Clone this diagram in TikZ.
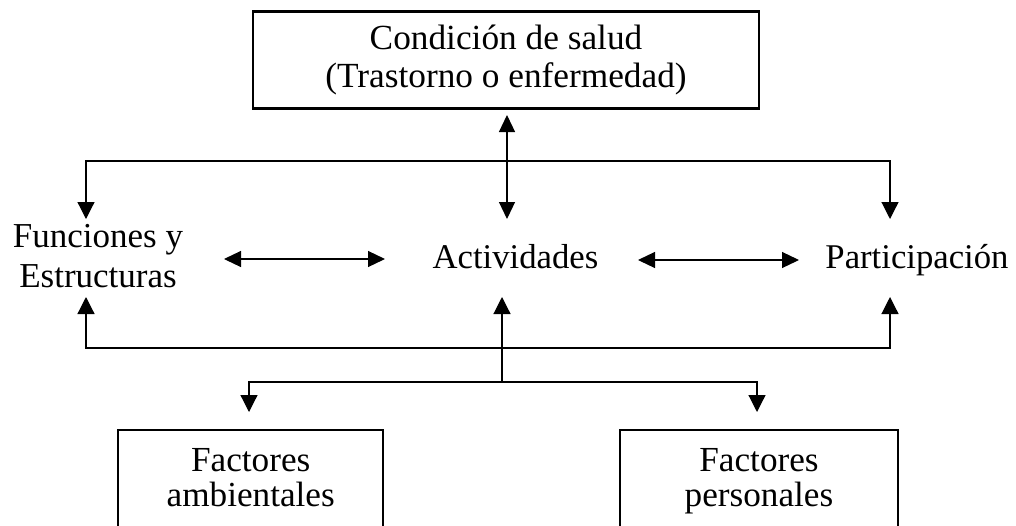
\documentclass[tikz,border=0pt]{standalone}
\usepackage{fontspec}
\setmainfont{Liberation Serif}
\usetikzlibrary{arrows.meta,calc}
\begin{document}
\begin{tikzpicture}[x=1pt,y=-1pt,
  txt/.style={font=\fontsize{34.7pt}{38pt}\selectfont, inner sep=0pt, align=center},
  box/.style={draw=black, line width=2.4pt, inner sep=0pt, align=center,
    font=\fontsize{35.3pt}{38pt}\selectfont},
  conn/.style={draw=black, line width=1.2pt, -{Triangle[length=17pt,width=17pt]}},
  biconn/.style={draw=black, line width=1.2pt, {Triangle[length=17pt,width=16pt]}-{Triangle[length=17pt,width=16pt]}}]
\clip (0,0) rectangle (1016,525);
\fill[white] (0,0) rectangle (1016,525);
% nodes
\node[box, minimum width=506pt, minimum height=97pt] (salud) at (506,60) {Condición de salud\\(Trastorno o enfermedad)};
\node[txt, font=\fontsize{35pt}{40pt}\selectfont] (func) at (98,256) {Funciones y\\Estructuras};
\node[txt, anchor=base] (act) at (515.5,268) {Actividades};
\node[txt, anchor=base] (part) at (917,268) {Participación};
\node[box, minimum width=265pt, minimum height=102pt, text depth=8pt, font=\fontsize{35.2pt}{35pt}\selectfont] (amb) at (250.7,481) {Factores\\ambientales};
\node[box, minimum width=278pt, minimum height=102pt, text depth=8pt, font=\fontsize{35.2pt}{35pt}\selectfont] (pers) at (759,481) {Factores\\personales};
% coordinates
\coordinate (sTip) at (507,115);
\coordinate (aTopTip) at (507,219);
\coordinate (hubT) at (507,161);
\coordinate (fTopTip) at (86,219);
\coordinate (pTopTip) at (890,219);
\coordinate (hubM) at (502,348);
\coordinate (fBotTip) at (86,297);
\coordinate (pBotTip) at (890,297);
\coordinate (hubL) at (502,382);
\coordinate (aBotTip) at (502,297);
\coordinate (ambTip) at (249,412);
\coordinate (persTip) at (757,412);
\coordinate (fR) at (224,259);
\coordinate (aL) at (385,259);
\coordinate (aR) at (638,260);
\coordinate (pL) at (799,260);
% connectors
\draw[biconn] (sTip) -- (aTopTip);
\draw[conn] (hubT) -| (fTopTip);
\draw[conn] (hubT) -| (pTopTip);
\draw[conn] (hubM) -| (fBotTip);
\draw[conn] (hubM) -| (pBotTip);
\draw[conn] (hubL) -- (aBotTip);
\draw[conn] (hubL) -| (ambTip);
\draw[conn] (hubL) -| (persTip);
\draw[biconn] (fR) -- (aL);
\draw[biconn] (aR) -- (pL);
\end{tikzpicture}
\end{document}
